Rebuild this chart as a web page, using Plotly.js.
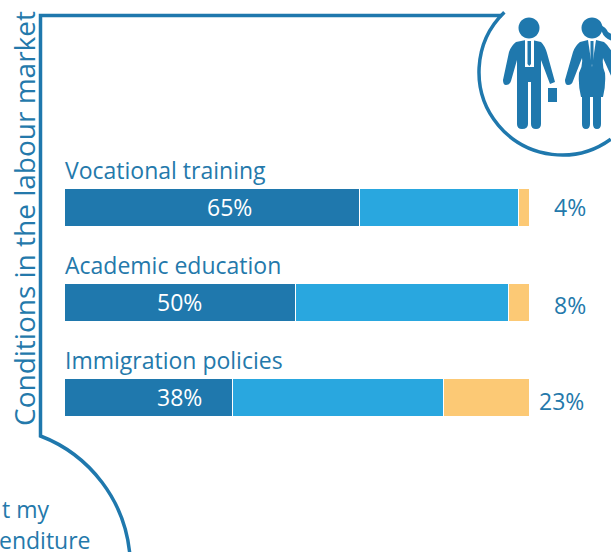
<!DOCTYPE html>
<html><head><meta charset="utf-8">
<script src="https://cdn.plot.ly/plotly-3.0.0.min.js"></script>
<style>html,body{margin:0;padding:0;background:#fff;overflow:hidden}#c{width:611px;height:552px}</style>
</head><body><div id="c"></div>
<script>
const categories = ["Vocational training", "Academic education", "Immigration policies"];
const firstShare = [63.6, 49.7, 36.1];
const secondShare = [34.2, 45.8, 45.4];
const thirdShare = [2.2, 4.5, 18.5];
const insideLabels = ["65%", "50%", "38%"];
const outsideLabels = ["4%", "8%", "23%"];
const sideTitle = "Conditions in the labour market";

const W = 611, H = 552;
const BLUE = "#1f78ad", MID = "#29a7df", SAND = "#fcc975", TXT = "#2479ab";
const FONT = "'Open Sans', sans-serif";
const X = v => v / W, Y = v => 1 - v / H;
const conv = d => d.replace(/(-?[\d.]+),(-?[\d.]+)/g, (m, a, b) => X(+a).toFixed(5) + "," + Y(+b).toFixed(5));

function arc(cx, cy, r, a0, a1, move) {
  const n = Math.ceil(Math.abs(a1 - a0) / 45), st = (a1 - a0) / n * Math.PI / 180;
  let a = a0 * Math.PI / 180;
  const k = 4 / 3 * Math.tan(st / 4);
  let d = move ? "M" + (cx + r * Math.cos(a)) + "," + (cy + r * Math.sin(a)) : "";
  for (let i = 0; i < n; i++) {
    const b = a + st;
    d += " C" + (cx + r * (Math.cos(a) - k * Math.sin(a))) + "," + (cy + r * (Math.sin(a) + k * Math.cos(a))) +
      " " + (cx + r * (Math.cos(b) + k * Math.sin(b))) + "," + (cy + r * (Math.sin(b) - k * Math.cos(b))) +
      " " + (cx + r * Math.cos(b)) + "," + (cy + r * Math.sin(b));
    a = b;
  }
  return d;
}
const stroke = (d, w) => ({type: "path", xref: "paper", yref: "paper", path: conv(d), line: {color: BLUE, width: w}, fillcolor: "rgba(0,0,0,0)", layer: "above"});
const solid = (d, c) => ({type: "path", xref: "paper", yref: "paper", path: conv(d), line: {width: 0}, fillcolor: c || BLUE, layer: "above"});

const shapes = [
  stroke("M502,15.5 L40.5,15.5 L40.5,436" + arc(-10, 567, 140.4, -69, -5), 3.5),
  stroke(arc(562, 72, 83, 226, 54, true), 3.5),
  // man
  solid(arc(529, 28, 10.5, 0, 360, true) + " Z"),
  solid("M526,40 L516,42 Q511,46 509,52 L503,80 Q503,85 506,85 Q510,85 511,81 L517,60 L517,124 Q517,129 522,129 Q528,129 528,124 L528,82 L531,82 L531,124 Q531,129 536,129 Q541,129 541,124 L541,60 L550,84 L555,82 L547,53 Q545,46 541,42 L532,40 Z"),
  solid("M525,40 L534,40 L534,67 L525,67 Z", "#ffffff"),
  solid("M527.5,41 L531,41 L531,64 L529.3,66 L527.5,64 Z"),
  solid("M548,88 L557,88 L557,102 L548,102 Z"),
  // woman
  solid(arc(592, 28, 10.5, 0, 360, true) + " Z"),
  solid("M600,25 Q606,27 608,32 Q611,34 612,34 L612,41 Q604,38 602,32 Z"),
  solid("M588,40 L580,42 Q575,46 573,52 L565,80 Q565,85 568,85 Q572,85 573,81 L582,58 Q583,66 579,73 Q578,85 581,97 L582,97 L582,124 Q582,129 586,129 Q590,129 590,124 L590,97 L593,97 L593,124 Q593,129 597,129 Q601,129 601,124 L601,97 L603,97 Q606,85 605,73 Q602,66 603,58 L612,78 L612,52 Q608,45 604,42 L596,40 Z"),
  solid("M588,40 L596,40 L592,67 Z", "#ffffff"),
  solid("M590.5,41 L593.5,41 L593.5,63 L592,66 L590.5,63 Z")
];

const SIZE = 23;
const ann = (text, o) => Object.assign({text, showarrow: false, font: {family: FONT, size: SIZE, color: TXT}}, o);
const annotations = [
  ann(sideTitle, {xref: "paper", yref: "paper", x: X(24), y: Y(219), textangle: -90, xanchor: "center", yanchor: "middle", font: {family: FONT, size: 28, color: TXT}}),
  ann("t my", {xref: "paper", yref: "paper", x: X(51), y: Y(509), xanchor: "right", yanchor: "middle"}),
  ann("enditure", {xref: "paper", yref: "paper", x: X(93), y: Y(540), xanchor: "right", yanchor: "middle"})
];
const insideX = [229, 179, 179], outsideX = [570, 570, 561], outsideShift = [0, -3, -4];
categories.forEach((c, i) => {
  annotations.push(ann(c, {xref: "paper", yref: "y", x: X(63), y: c, yshift: 37, xanchor: "left", yanchor: "middle"}));
  annotations.push(ann(insideLabels[i], {xref: "paper", yref: "y", x: X(insideX[i]), y: c, xanchor: "center", yanchor: "middle", font: {family: FONT, size: SIZE, color: "#ffffff"}}));
  annotations.push(ann(outsideLabels[i], {xref: "paper", yref: "y", x: X(outsideX[i]), y: c, yshift: outsideShift[i], xanchor: "center", yanchor: "middle"}));
});

const bar = (v, color) => ({type: "bar", orientation: "h", y: categories, x: v, marker: {color, line: {color: "#ffffff", width: 1}}, hoverinfo: "skip"});
Plotly.newPlot("c", [bar(firstShare, BLUE), bar(secondShare, MID), bar(thirdShare, SAND)], {
  width: W, height: H, margin: {l: 0, r: 0, t: 0, b: 0}, paper_bgcolor: "#fff", plot_bgcolor: "#fff",
  barmode: "stack", bargap: 0.6, showlegend: false,
  xaxis: {domain: [X(64.5), X(529)], range: [0, 100], visible: false, fixedrange: true},
  yaxis: {domain: [Y(445), Y(159.5)], categoryorder: "array", categoryarray: categories, autorange: false, range: [2.5, -0.5], visible: false, fixedrange: true},
  shapes, annotations
}, {displayModeBar: false, staticPlot: true});
</script></body></html>
